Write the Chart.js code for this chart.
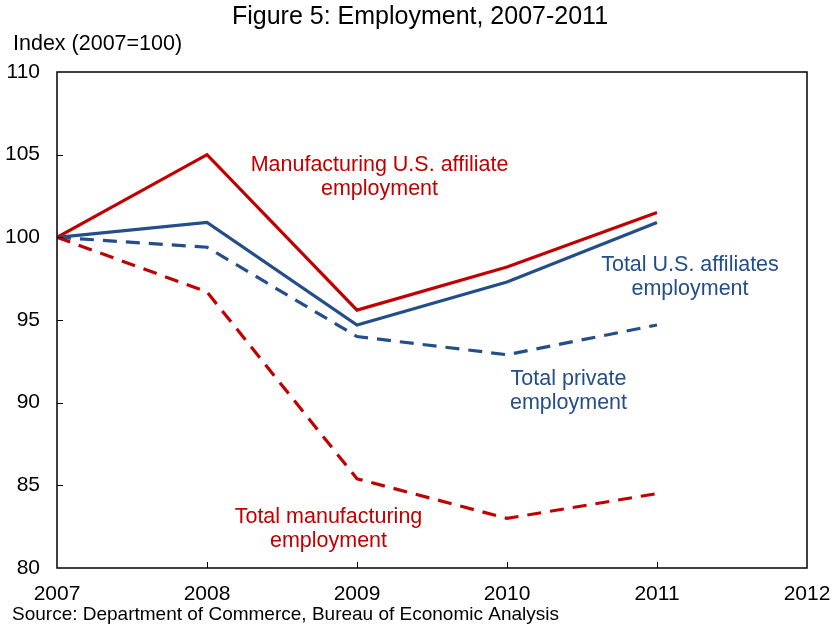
<!DOCTYPE html>
<html>
<head>
<meta charset="utf-8">
<script src="https://cdn.jsdelivr.net/npm/chart.js@4/dist/chart.umd.min.js"></script>
<style>
  html, body { margin: 0; padding: 0; background: #fff; }
  #wrap { width: 835px; height: 629px; }
</style>
</head>
<body>
<div id="wrap"><canvas id="chart" width="835" height="629"></canvas></div>
<script>
// data (index, 2007=100)
const years = [2007, 2008, 2009, 2010, 2011];
const mfgAffiliates = [100, 105.0, 95.6, 98.2, 101.5];
const totalAffiliates = [100, 100.9, 94.7, 97.3, 100.9];
const totalPrivate = [100, 99.4, 94.0, 92.9, 94.7];
const totalMfg = [100, 96.7, 85.4, 83.0, 84.5];

const xTicks = [2007, 2008, 2009, 2010, 2011, 2012];
const yTicks = [80, 85, 90, 95, 100, 105, 110];

const RED = '#C00000';
const BLUE = '#244E89';
const FONT = '"Liberation Sans", Arial, sans-serif';

// labels placed in data coordinates
const seriesLabels = [
  { lines: ['Manufacturing U.S. affiliate', 'employment'], x: 2009.15, y: 104.35, color: RED },
  { lines: ['Total U.S. affiliates', 'employment'], x: 2011.22, y: 98.3, color: BLUE },
  { lines: ['Total private', 'employment'], x: 2010.41, y: 91.4, color: BLUE },
  { lines: ['Total manufacturing', 'employment'], x: 2008.81, y: 83.1, color: RED }
];

function toPoints(vals) {
  return vals.map((v, i) => ({ x: years[i], y: v }));
}

const decor = {
  id: 'decor',
  afterDraw(chart) {
    const ctx = chart.ctx;
    const a = chart.chartArea;
    const xs = chart.scales.x, ys = chart.scales.y;
    ctx.save();
    // frame
    ctx.strokeStyle = '#000';
    ctx.lineWidth = 1.5;
    ctx.strokeRect(a.left, a.top, a.right - a.left, a.bottom - a.top);
    // inward ticks
    ctx.lineWidth = 1;
    ctx.beginPath();
    xTicks.slice(1, -1).forEach(t => {
      const px = Math.round(xs.getPixelForValue(t)) + 0.5;
      ctx.moveTo(px, a.bottom);
      ctx.lineTo(px, a.bottom - 6);
    });
    yTicks.slice(1, -1).forEach(t => {
      const py = Math.round(ys.getPixelForValue(t)) + 0.5;
      ctx.moveTo(a.left, py);
      ctx.lineTo(a.left + 6, py);
    });
    ctx.stroke();

    // series labels
    ctx.font = '21.5px ' + FONT;
    ctx.textAlign = 'center';
    ctx.textBaseline = 'middle';
    seriesLabels.forEach(l => {
      const cx = xs.getPixelForValue(l.x);
      const cy = ys.getPixelForValue(l.y);
      ctx.fillStyle = l.color;
      l.lines.forEach((s, i) => ctx.fillText(s, cx, cy + i * 24));
    });

    // title, axis label, source
    ctx.fillStyle = '#000';
    ctx.font = '25px ' + FONT;
    ctx.fillText('Figure 5: Employment, 2007-2011', 420, 17);
    ctx.textAlign = 'left';
    ctx.font = '21.5px ' + FONT;
    ctx.fillText('Index (2007=100)', 13, 44);
    ctx.font = '19px ' + FONT;
    ctx.fillText('Source: Department of Commerce, Bureau of Economic Analysis', 12, 615);
    ctx.restore();
  }
};

function lineSet(label, vals, color, dashed) {
  return {
    label: label,
    data: toPoints(vals),
    borderColor: color,
    backgroundColor: color,
    borderWidth: 3.2,
    borderDash: dashed ? [14, 9] : [],
    pointRadius: 0,
    tension: 0,
    fill: false
  };
}

new Chart(document.getElementById('chart').getContext('2d'), {
  type: 'line',
  data: {
    datasets: [
      lineSet('Total manufacturing employment', totalMfg, RED, true),
      lineSet('Total private employment', totalPrivate, BLUE, true),
      lineSet('Total U.S. affiliates employment', totalAffiliates, BLUE, false),
      lineSet('Manufacturing U.S. affiliate employment', mfgAffiliates, RED, false)
    ]
  },
  options: {
    responsive: false,
    animation: false,
    layout: { padding: { left: 0, top: 72, right: 28, bottom: 0 } },
    plugins: {
      legend: { display: false },
      tooltip: { enabled: false }
    },
    scales: {
      x: {
        type: 'linear',
        min: 2007,
        max: 2012,
        afterBuildTicks(s) { s.ticks = xTicks.map(v => ({ value: v })); },
        afterFit(s) { s.height = 61; s.paddingLeft = 0; s.paddingRight = 0; },
        grid: { display: false, drawTicks: false },
        border: { display: false },
        ticks: {
          color: '#000',
          font: { family: FONT, size: 21 },
          padding: 14,
          maxRotation: 0,
          autoSkip: false,
          callback: v => String(v)
        }
      },
      y: {
        min: 80,
        max: 110,
        afterBuildTicks(s) { s.ticks = yTicks.map(v => ({ value: v })); },
        afterFit(s) { s.width = 57; s.paddingTop = 0; s.paddingBottom = 0; },
        grid: { display: false, drawTicks: false },
        border: { display: false },
        ticks: {
          color: '#000',
          font: { family: FONT, size: 21 },
          padding: 17,
          callback: v => String(v)
        }
      }
    }
  },
  plugins: [decor]
});
</script>
</body>
</html>
